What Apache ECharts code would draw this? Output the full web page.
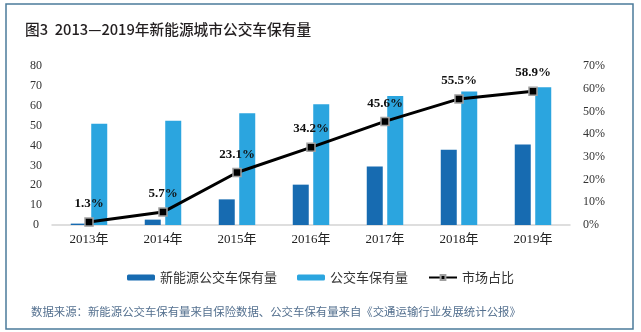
<!DOCTYPE html>
<html>
<head>
<meta charset="utf-8">
<script src="https://cdn.jsdelivr.net/npm/echarts@6/dist/echarts.min.js"></script>
<style>
html,body{margin:0;padding:0;background:#fff;}
#chart{width:641px;height:332px;}
</style>
</head>
<body>
<div id="chart"></div>
<script>
const categories = ['2013年', '2014年', '2015年', '2016年', '2017年', '2018年', '2019年'];
const nevBus = [0.7, 2.7, 12.9, 20.3, 29.4, 37.9, 40.5];
const totalBus = [50.9, 52.5, 56.2, 60.8, 64.9, 67.2, 69.3];
const shareRate = [1.3, 5.7, 23.1, 34.2, 45.6, 55.5, 58.9];
const leftTicks = { min: 0, max: 80, interval: 10 };
const rightTicks = { min: 0, max: 70, interval: 10 };
const seriesNames = ['新能源公交车保有量', '公交车保有量', '市场占比'];
const titleText = '图3  2013—2019年新能源城市公交车保有量';
const sourceText = '数据来源：新能源公交车保有量来自保险数据、公交车保有量来自《交通运输行业发展统计公报》';

const chart = echarts.init(document.getElementById('chart'), null, { renderer: 'canvas' });
const serif = '"Liberation Serif", "Times New Roman", "Noto Sans CJK SC", serif';
const cjk = '"Noto Sans CJK SC", sans-serif';

chart.setOption({
  animation: false,
  backgroundColor: '#ffffff',
  title: [
    { text: titleText, left: 20, top: 17,
      textStyle: { fontFamily: cjk, fontSize: 14.7, fontWeight: 500, color: '#231f20' } },
    { text: sourceText, left: 26, top: 301,
      textStyle: { fontFamily: cjk, fontSize: 11.4, fontWeight: 'normal', color: '#54708f' } }
  ],
  graphic: [
    { type: 'rect', shape: { x: 6, y: 4, width: 627, height: 325 },
      style: { fill: 'none', stroke: '#4b7b9b', lineWidth: 1.5 }, silent: true }
  ],
  legend: {
    left: 'center', top: 266, itemWidth: 28, itemHeight: 6, itemGap: 20,
    textStyle: { fontFamily: cjk, fontSize: 13, color: '#333' },
    data: seriesNames
  },
  grid: { left: 52, right: 71, top: 66, bottom: 107, containLabel: false },
  xAxis: {
    type: 'category', data: categories,
    axisLine: { lineStyle: { color: '#d4d4d4', width: 1.5 } },
    axisTick: { show: false },
    axisLabel: { fontFamily: serif, fontSize: 13, color: '#222', margin: 8 }
  },
  yAxis: [
    { type: 'value', min: leftTicks.min, max: leftTicks.max, interval: leftTicks.interval,
      axisLine: { show: false }, axisTick: { show: false }, splitLine: { show: false },
      axisLabel: { fontFamily: serif, fontSize: 12, color: '#333', align: 'center', margin: 16, padding: [4, 0, 0, 0] } },
    { type: 'value', min: rightTicks.min, max: rightTicks.max, interval: rightTicks.interval,
      axisLine: { show: false }, axisTick: { show: false }, splitLine: { show: false },
      axisLabel: { fontFamily: serif, fontSize: 12, color: '#333', margin: 13, formatter: '{value}%', padding: [4, 0, 0, 0] } }
  ],
  series: [
    { name: seriesNames[0], type: 'bar', data: nevBus, barWidth: 16, barGap: '28%',
      itemStyle: { color: '#176bb1' } },
    { name: seriesNames[1], type: 'bar', data: totalBus, barWidth: 16, barGap: '28%',
      itemStyle: { color: '#2ba5df' } },
    { name: seriesNames[2], type: 'line', yAxisIndex: 1, data: shareRate,
      symbol: 'rect', symbolSize: 8,
      lineStyle: { color: '#000', width: 3 },
      itemStyle: { color: '#000', borderColor: '#a0a0a0', borderWidth: 1.5 },
      label: { show: true, position: 'top', distance: 7, formatter: '{c}%',
        fontFamily: serif, fontSize: 13, fontWeight: 'bold', color: '#111' },
      z: 5 }
  ]
});
</script>
</body>
</html>
